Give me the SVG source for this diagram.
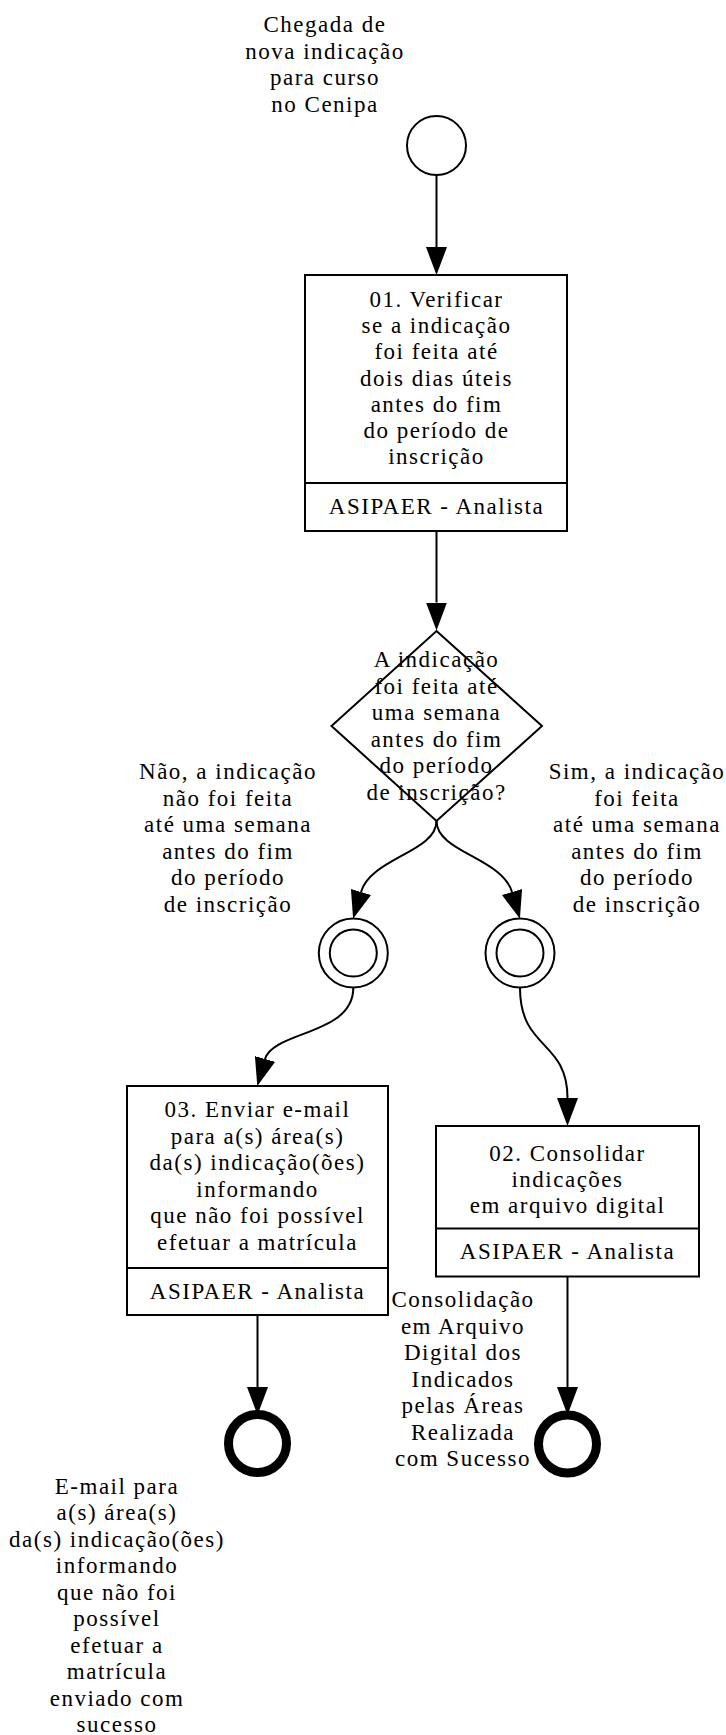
<svg xmlns="http://www.w3.org/2000/svg" width="726" height="1735" viewBox="0 0 726 1735">
<style>
text{font-family:"Liberation Serif","Times New Roman",serif;font-size:23px;letter-spacing:1.5px;fill:#000;text-anchor:middle}
.box{fill:#fff;stroke:#000;stroke-width:2}
.ln{fill:none;stroke:#000;stroke-width:2}
.conn{fill:none;stroke:#000;stroke-width:2;marker-end:url(#arr)}
.endc{fill:none;stroke:#000;stroke-width:9}
</style>
<defs>
<marker id="arr" markerUnits="userSpaceOnUse" markerWidth="28" markerHeight="21" viewBox="0 0 28 21" refX="0" refY="10.5" orient="auto">
<path d="M0,0 L28,10.5 L0,21 z" fill="#000"/>
</marker>
</defs>
<rect width="726" height="1735" fill="#fff"/>
<g id="connectors">
<path class="conn" d="M436.5,175 L436.5,247"/>
<path class="conn" d="M436.5,531 L436.5,602.5"/>
<path class="conn" d="M436.5,821 C436.5,852 371,858 361,892"/>
<path class="conn" d="M436.5,821 C436.5,852 502,858 512,892"/>
<path class="conn" d="M353.3,988 C353.3,1035 273,1031 265,1059"/>
<path class="conn" d="M520,988 C520,1050 567.5,1040 567.5,1098"/>
<path class="conn" d="M257.5,1315 L257.5,1387"/>
<path class="conn" d="M567.5,1276.5 L567.5,1387"/>
</g>
<g id="start">
<circle class="ln" cx="436.5" cy="145.5" r="29.5"/>
<text x="325" y="32">Chegada de</text>
<text x="325" y="58.5">nova indicação</text>
<text x="325" y="85">para curso</text>
<text x="325" y="111.5">no Cenipa</text>
</g>
<g id="task01">
<rect class="box" x="305" y="275" width="262" height="256"/>
<line class="ln" x1="305" y1="483" x2="567" y2="483"/>
<text x="436.5" y="307">01. Verificar</text>
<text x="436.5" y="333.2">se a indicação</text>
<text x="436.5" y="359.4">foi feita até</text>
<text x="436.5" y="385.6">dois dias úteis</text>
<text x="436.5" y="411.8">antes do fim</text>
<text x="436.5" y="438">do período de</text>
<text x="436.5" y="464.2">inscrição</text>
<text x="436.5" y="514">ASIPAER - Analista</text>
</g>
<g id="gateway">
<polygon class="ln" points="436.5,631 542,726 436.5,821 331.5,726"/>
<text x="436.5" y="667">A indicação</text>
<text x="436.5" y="693.6">foi feita até</text>
<text x="436.5" y="720.2">uma semana</text>
<text x="436.5" y="746.8">antes do fim</text>
<text x="436.5" y="773.4">do período</text>
<text x="436.5" y="800">de inscrição?</text>
</g>
<g id="label-nao">
<text x="228" y="779">Não, a indicação</text>
<text x="228" y="805.6">não foi feita</text>
<text x="228" y="832.2">até uma semana</text>
<text x="228" y="858.8">antes do fim</text>
<text x="228" y="885.4">do período</text>
<text x="228" y="912">de inscrição</text>
</g>
<g id="label-sim">
<text x="637" y="779">Sim, a indicação</text>
<text x="637" y="805.6">foi feita</text>
<text x="637" y="832.2">até uma semana</text>
<text x="637" y="858.8">antes do fim</text>
<text x="637" y="885.4">do período</text>
<text x="637" y="912">de inscrição</text>
</g>
<g id="inter-left">
<circle class="ln" cx="353.3" cy="953" r="34.5"/>
<circle class="ln" cx="353.3" cy="953" r="23.5"/>
</g>
<g id="inter-right">
<circle class="ln" cx="520" cy="953" r="34.5"/>
<circle class="ln" cx="520" cy="953" r="23.5"/>
</g>
<g id="task03">
<rect class="box" x="127" y="1086" width="261" height="229"/>
<line class="ln" x1="127" y1="1268" x2="388" y2="1268"/>
<text x="257.5" y="1117">03. Enviar e-mail</text>
<text x="257.5" y="1143.5">para a(s) área(s)</text>
<text x="257.5" y="1170">da(s) indicação(ões)</text>
<text x="257.5" y="1196.5">informando</text>
<text x="257.5" y="1223">que não foi possível</text>
<text x="257.5" y="1249.5">efetuar a matrícula</text>
<text x="257.5" y="1299">ASIPAER - Analista</text>
</g>
<g id="task02">
<rect class="box" x="436" y="1126" width="263" height="150.5"/>
<line class="ln" x1="436" y1="1228.5" x2="699" y2="1228.5"/>
<text x="567.5" y="1160.5">02. Consolidar</text>
<text x="567.5" y="1186.5">indicações</text>
<text x="567.5" y="1212.5">em arquivo digital</text>
<text x="567.5" y="1259">ASIPAER - Analista</text>
</g>
<g id="end-left">
<circle class="endc" cx="257.5" cy="1443.5" r="29"/>
<text x="117" y="1493.5">E-mail para</text>
<text x="117" y="1520">a(s) área(s)</text>
<text x="117" y="1546.5">da(s) indicação(ões)</text>
<text x="117" y="1573">informando</text>
<text x="117" y="1599.5">que não foi</text>
<text x="117" y="1626">possível</text>
<text x="117" y="1652.5">efetuar a</text>
<text x="117" y="1679">matrícula</text>
<text x="117" y="1705.5">enviado com</text>
<text x="117" y="1732">sucesso</text>
</g>
<g id="end-right">
<circle class="endc" cx="567.5" cy="1444" r="29"/>
<text x="463" y="1307">Consolidação</text>
<text x="463" y="1333.5">em Arquivo</text>
<text x="463" y="1360">Digital dos</text>
<text x="463" y="1386.5">Indicados</text>
<text x="463" y="1413">pelas Áreas</text>
<text x="463" y="1439.5">Realizada</text>
<text x="463" y="1466">com Sucesso</text>
</g>
</svg>
